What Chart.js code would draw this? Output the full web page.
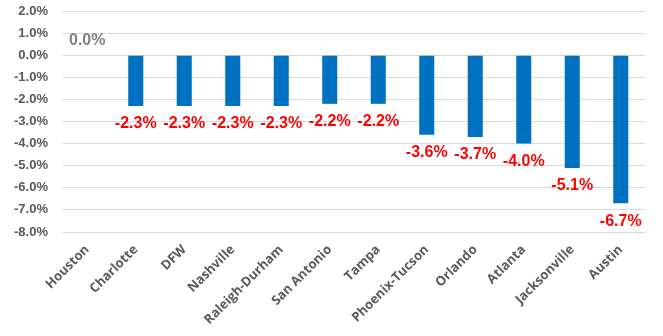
<!DOCTYPE html>
<html>
<head>
<meta charset="utf-8">
<script src="https://cdn.jsdelivr.net/npm/chart.js@4.4.0/dist/chart.umd.min.js"></script>
<style>
html,body{margin:0;padding:0;background:#fff;}
#wrap{width:663px;height:336px;position:relative;}
</style>
</head>
<body>
<div id="wrap"><canvas id="c"></canvas></div>
<script>
const categories = ["Houston","Charlotte","DFW","Nashville","Raleigh-Durham","San Antonio","Tampa","Phoenix-Tucson","Orlando","Atlanta","Jacksonville","Austin"];
const values = [0.0,-2.3,-2.3,-2.3,-2.3,-2.2,-2.2,-3.6,-3.7,-4.0,-5.1,-6.7];
const yTicks = [2,1,0,-1,-2,-3,-4,-5,-6,-7,-8];

const labelPlugin = {
  id: 'barLabels',
  afterDatasetsDraw(chart) {
    const ctx = chart.ctx;
    const meta = chart.getDatasetMeta(0);
    const y = chart.scales.y;
    ctx.save();
    ctx.font = 'bold 16px "Liberation Sans", Arial, sans-serif';
    ctx.textAlign = 'center';
    ctx.textBaseline = 'middle';
    meta.data.forEach((bar, i) => {
      const v = values[i];
      const txt = v.toFixed(1) + '%';
      if (v === 0) {
        ctx.fillStyle = '#808080';
        ctx.fillText(txt, bar.x, y.getPixelForValue(0) - 15);
      } else {
        ctx.fillStyle = '#FF0000';
        ctx.fillText(txt, bar.x, y.getPixelForValue(v) + 18);
      }
    });
    ctx.restore();
  }
};

new Chart(document.getElementById('c'), {
  type: 'bar',
  data: {
    labels: categories,
    datasets: [{
      data: values,
      backgroundColor: '#0070C0',
      categoryPercentage: 1.0,
      barPercentage: 0.31
    }]
  },
  options: {
    responsive: true,
    maintainAspectRatio: false,
    animation: false,
    layout: { padding: { top: 11, right: 18, left: 0, bottom: 0 } },
    plugins: { legend: { display: false }, tooltip: { enabled: false } },
    scales: {
      x: {
        grid: { display: false },
        border: { display: false },
        ticks: {
          color: '#595959',
          font: { family: '"Open Sans", sans-serif', size: 13, weight: 'bold' },
          maxRotation: 45, minRotation: 45, autoSkip: false, padding: 2
        },
        afterFit(scale) { scale.height = 104; scale.paddingLeft = 0; scale.paddingRight = 0; }
      },
      y: {
        min: -8, max: 2,
        afterBuildTicks(scale) { scale.ticks = yTicks.map(v => ({ value: v })); },
        grid: { color: '#d9d9d9', lineWidth: 1, drawTicks: false },
        border: { display: false },
        ticks: {
          color: '#595959',
          padding: 15,
          font: { family: '"Liberation Sans", Arial, sans-serif', size: 13, weight: 'bold' },
          callback: v => v.toFixed(1) + '%'
        },
        afterFit(scale) { scale.width = 63; scale.paddingTop = 0; scale.paddingBottom = 0; }
      }
    }
  },
  plugins: [labelPlugin]
});
</script>
</body>
</html>
